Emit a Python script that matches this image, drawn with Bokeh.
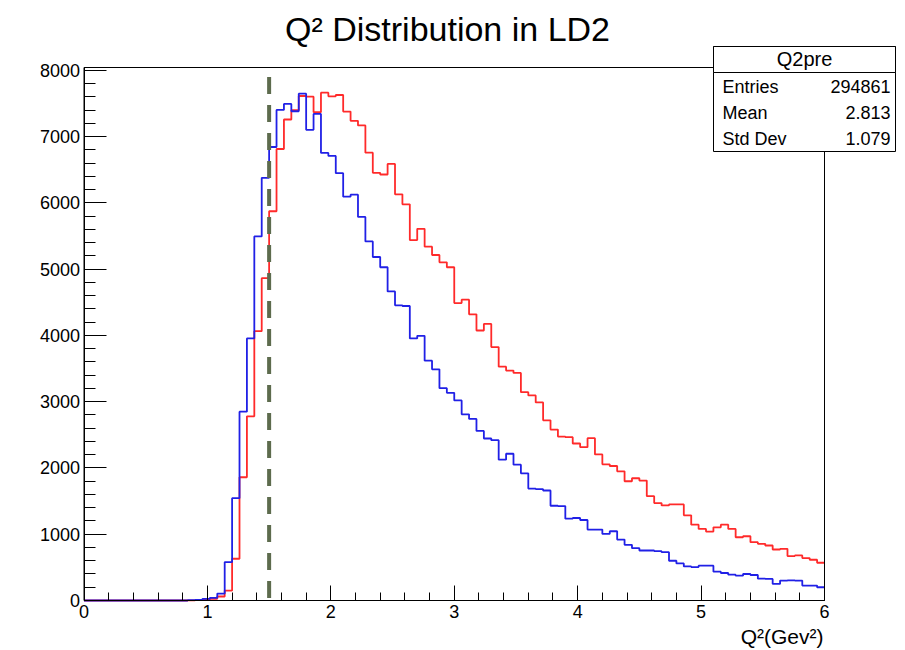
import numpy as np
from bokeh.plotting import figure
from bokeh.models import Range1d, FixedTicker, Label, BoxAnnotation
from bokeh.embed import file_html
from bokeh.resources import INLINE

# ---------------- data ----------------
title_text = "Q\u00b2 Distribution in LD2"
x_title = "Q\u00b2(Gev\u00b2)"
q2_lo, q2_hi = 0.0, 6.0

red_counts = [
    0, 0, 0, 0, 0, 0, 0, 0, 0, 0,
    0, 0, 0, 0, 3, 5, 10, 25, 60, 150,
    630, 1860, 2780, 4065, 4865, 5875, 6815, 7260, 7400, 7615,
    7605, 7370, 7665, 7610, 7630, 7380, 7240, 7170, 6760, 6455,
    6430, 6590, 6130, 5980, 5440, 5610, 5340, 5215, 5105, 5030,
    4490, 4540, 4320, 4075, 4175, 3825, 3530, 3470, 3435, 3145,
    3095, 2990, 2720, 2580, 2475, 2465, 2370, 2315, 2450, 2205,
    2055, 2030, 1950, 1800, 1845, 1810, 1575, 1470, 1435, 1450,
    1450, 1285, 1145, 1080, 1040, 1105, 1145, 1080, 955, 970,
    880, 855, 830, 770, 780, 670, 680, 640, 615, 570,
]
blue_counts = [
    0, 0, 0, 0, 0, 0, 0, 0, 0, 0,
    0, 0, 0, 0, 5, 10, 25, 40, 105, 580,
    1545, 2850, 3955, 5495, 6380, 6845, 7405, 7495, 7385, 7650,
    7105, 7345, 6755, 6710, 6450, 6095, 6125, 5790, 5420, 5185,
    5030, 4665, 4455, 4445, 3955, 3995, 3620, 3490, 3205, 3135,
    3020, 2810, 2740, 2560, 2445, 2420, 2125, 2215, 2050, 1920,
    1690, 1680, 1660, 1430, 1425, 1235, 1245, 1215, 1070, 1070,
    1005, 1045, 920, 840, 790, 755, 755, 745, 730, 600,
    560, 515, 505, 525, 525, 435, 415, 390, 375, 400,
    385, 330, 325, 250, 300, 305, 300, 225, 225, 200,
]
cut_q2 = 1.5
cut_top = 7900
y_max = 8045

stats_name = "Q2pre"
stats_labels = ["Entries", "Mean", "Std Dev"]
stats_values = ["294861", "2.813", "1.079"]

x_ticks = [0, 1, 2, 3, 4, 5, 6]
y_ticks = [0, 1000, 2000, 3000, 4000, 5000, 6000, 7000, 8000]

# ---------------- layout (pixels of the 905x650 canvas) ----------------
W, H = 905, 650
FX0, FX1 = 83.5, 824.0      # frame left / right
FY_TOP, FY_BOT = 67.0, 600.0  # frame top / bottom
FONT = "Liberation Sans"

xs = (FX1 - FX0) / (q2_hi - q2_lo)
ys = (FY_BOT - FY_TOP) / y_max
x_range = Range1d(q2_lo - FX0 / xs, q2_hi + (W - FX1) / xs)
y_range = Range1d(-(H - FY_BOT) / ys, y_max + FY_TOP / ys)

n_bins = len(red_counts)
edges = np.linspace(q2_lo, q2_hi, n_bins + 1)

p = figure(width=W, height=H, output_backend="svg", toolbar_location=None,
           title=None, x_range=x_range, y_range=y_range,
           min_border=0, min_border_left=0, min_border_right=0,
           min_border_top=0, min_border_bottom=0)
p.background_fill_color = "white"
p.border_fill_color = "white"
p.outline_line_color = None
p.xgrid.visible = False
p.ygrid.visible = False

minor_x = list(np.round(np.arange(q2_lo, q2_hi + 0.001, 0.2), 3))
minor_y = list(range(0, 8001, 200))
p.xaxis.ticker = FixedTicker(ticks=x_ticks, minor_ticks=minor_x)
p.yaxis.ticker = FixedTicker(ticks=y_ticks, minor_ticks=minor_y)
p.xaxis.fixed_location = 0
p.yaxis.fixed_location = 0
p.xaxis.bounds = (q2_lo, q2_hi)
p.yaxis.bounds = (0, y_max)

for ax, maj, mnr in ((p.xaxis, 15, 8), (p.yaxis, 22, 11)):
    ax.major_tick_in = maj
    ax.major_tick_out = 0
    ax.minor_tick_in = mnr
    ax.minor_tick_out = 0
    ax.axis_line_color = "black"
    ax.major_tick_line_color = "black"
    ax.minor_tick_line_color = "black"
    ax.major_label_text_font = FONT
    ax.major_label_text_font_size = "18px"
    ax.major_label_text_color = "black"
p.xaxis.major_label_standoff = 4
p.yaxis.major_label_standoff = 4

# histograms
p.step(x=list(edges), y=red_counts + [red_counts[-1]], mode="after",
       line_color="#ff2a2a", line_width=1.8)
p.step(x=list(edges), y=blue_counts + [blue_counts[-1]], mode="after",
       line_color="#2020e6", line_width=1.8)

# cut line
p.line(x=[cut_q2, cut_q2], y=[cut_top, 0], line_color="#5d6b4d",
       line_width=4, line_dash="17 11")

# ROOT-style frame
p.add_layout(BoxAnnotation(left=q2_lo, right=q2_hi, bottom=0, top=y_max,
                           fill_alpha=0.0, line_color="black", line_width=1,
                           line_alpha=1.0))

# stats box
def canvas_box(top, bottom):
    return BoxAnnotation(left=713, right=895, top=top, bottom=bottom,
                         left_units="canvas", right_units="canvas",
                         top_units="canvas", bottom_units="canvas",
                         fill_color="white", fill_alpha=1.0,
                         line_color="black", line_width=1, line_alpha=1.0)

p.add_layout(canvas_box(46, 151))
p.add_layout(canvas_box(46, 72))
p.add_layout(Label(x=804, y=58, x_units="canvas", y_units="canvas",
                   text=stats_name, text_align="center", text_baseline="middle",
                   text_font=FONT, text_font_size="20px", text_color="black"))
row_y = [86, 112, 138]
for lab, val, yy in zip(stats_labels, stats_values, row_y):
    p.add_layout(Label(x=722, y=yy, x_units="canvas", y_units="canvas",
                       text=lab, text_align="left", text_baseline="middle",
                       text_font=FONT, text_font_size="18px", text_color="black"))
    p.add_layout(Label(x=890, y=yy, x_units="canvas", y_units="canvas",
                       text=val, text_align="right", text_baseline="middle",
                       text_font=FONT, text_font_size="18px", text_color="black"))

# titles
p.add_layout(Label(x=447, y=28, x_units="canvas", y_units="canvas",
                   text=title_text, text_align="center", text_baseline="middle",
                   text_font=FONT, text_font_size="34px", text_color="black"))
p.add_layout(Label(x=823, y=636, x_units="canvas", y_units="canvas",
                   text=x_title, text_align="right", text_baseline="middle",
                   text_font=FONT, text_font_size="21px", text_color="black"))

open("out.html", "w").write(file_html(p, INLINE))
